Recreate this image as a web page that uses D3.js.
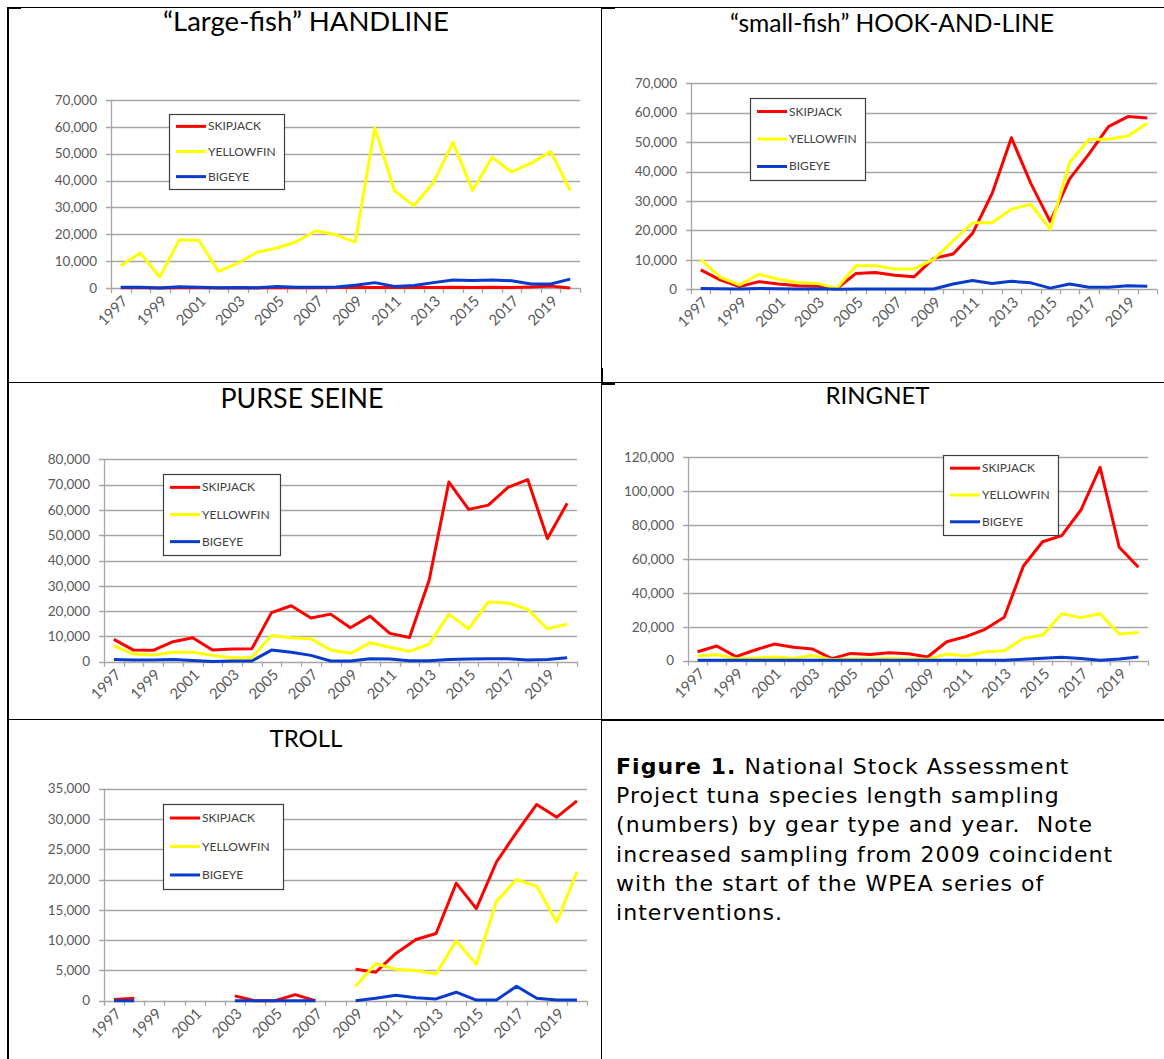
<!DOCTYPE html>
<html>
<head>
<meta charset="utf-8">
<script src="https://d3js.org/d3.v7.min.js"></script>
<style>
  body { margin: 0; background: #fff; }
  svg { display: block; }
  .tick-label { font-family: Lato, "Open Sans", sans-serif; fill: #595959; }
  .legend-text { font-family: Lato, "Open Sans", sans-serif; fill: #404040; }
  .title { font-family: Lato, "Open Sans", sans-serif; fill: #000; }
  .caption { font-family: "DejaVu Sans", Verdana, sans-serif; fill: #000; }
</style>
</head>
<body>
<div id="figure"></div>
<script>
// Categories and series
var years = [1997, 1998, 1999, 2000, 2001, 2002, 2003, 2004, 2005, 2006, 2007, 2008,
             2009, 2010, 2011, 2012, 2013, 2014, 2015, 2016, 2017, 2018, 2019, 2020];
var yearLabels = ["1997", "1999", "2001", "2003", "2005", "2007", "2009", "2011", "2013", "2015", "2017", "2019"];
var species = ["SKIPJACK", "YELLOWFIN", "BIGEYE"];

// "Large-fish" handline
var handlineSkipjack  = [100, 100, 0, 100, 100, 0, 100, 0, 200, 100, 100, 200, 300, 200, 200, 300, 200, 300, 200, 300, 200, 400, 700, 0];
var handlineYellowfin = [8300, 13000, 4100, 18000, 17700, 6200, 9300, 13400, 14900, 17300, 21300, 19800,
                         17100, 59700, 36300, 30600, 39300, 54200, 36300, 48700, 43200, 46500, 50800, 36300];
var handlineBigeye    = [300, 300, 0, 500, 300, 100, 200, 100, 600, 300, 300, 400, 1000, 2000, 600, 900, 2000, 3000, 2800, 3000, 2700, 1500, 1500, 3300];

// "small-fish" hook-and-line
var hookSkipjack  = [6600, 3200, 900, 2600, 1800, 1200, 1100, 200, 5400, 5700, 4800, 4300,
                     10500, 12000, 19000, 32400, 51500, 36000, 23000, 37500, 46000, 55300, 58700, 58200];
var hookYellowfin = [10200, 4100, 1500, 5100, 3400, 2300, 2000, 300, 8000, 8000, 6900, 7000,
                     10200, 16500, 22600, 22600, 27200, 28900, 20400, 43000, 51000, 51000, 52100, 56400];
var hookBigeye    = [300, 200, 100, 300, 200, 100, 200, 0, 100, 100, 100, 100, 100, 1800, 3000, 2000, 2700, 2200, 400, 1800, 700, 700, 1200, 1000];

// Purse seine
var purseSkipjack  = [8800, 4600, 4500, 7900, 9500, 4600, 5000, 5100, 19400, 22100, 17300, 18800,
                      13400, 18000, 11200, 9600, 32300, 71000, 60200, 61900, 68900, 72000, 48700, 62600];
var purseYellowfin = [6300, 3000, 2600, 3700, 3700, 2500, 1600, 1600, 10400, 9500, 9100, 4600,
                      3300, 7500, 5700, 4100, 7000, 18800, 13000, 23600, 23200, 20700, 13000, 14800];
var purseBigeye    = [900, 700, 700, 900, 500, 100, 300, 300, 4600, 3700, 2500, 300,
                      300, 1200, 1100, 400, 400, 900, 1100, 1200, 1200, 700, 900, 1600];

// Ringnet
var ringSkipjack  = [5300, 8700, 2400, 6300, 9800, 7900, 6900, 1200, 4300, 3700, 4700, 4100,
                     2200, 11200, 14200, 18500, 25600, 55900, 70200, 73800, 88900, 114100, 66900, 55100];
var ringYellowfin = [2800, 3500, 1200, 1600, 2200, 1400, 3100, 600, 1200, 1000, 1400, 1000,
                     800, 3900, 2800, 5300, 5900, 13200, 15000, 27700, 25400, 27700, 15700, 16700];
var ringBigeye    = [200, 200, 200, 200, 200, 200, 200, 200, 200, 200, 200, 200,
                     200, 300, 300, 300, 300, 800, 1500, 2000, 1300, 300, 1000, 2200];

// Troll (gaps are years with no sampling)
var trollSkipjack  = [200, 400, null, null, null, null, 800, 0, 0, 1000, 0, null,
                      5200, 4700, 7800, 10100, 11100, 19400, 15200, 22900, 27800, 32400, 30300, 33000];
var trollYellowfin = [null, null, null, null, null, null, null, null, null, null, null, null,
                      2400, 6100, 5200, 5000, 4400, 9900, 6000, 16400, 20000, 18900, 13000, 21300];
var trollBigeye    = [0, 0, null, null, null, null, 0, 0, 0, 0, 0, null,
                      0, 400, 900, 500, 300, 1400, 100, 100, 2400, 400, 100, 100];

var captionBold = "Figure 1.";
var captionLines = [
  " National Stock Assessment",
  "Project tuna species length sampling",
  "(numbers) by gear type and year.  Note",
  "increased sampling from 2009 coincident",
  "with the start of the WPEA series of",
  "interventions."
];

var colors = ["#ff0000", "#ffff00", "#0a3ccc"];

var panels = [
  { title: "\u201cLarge-fish\u201d HANDLINE", yMax: 70000, yStep: 10000,
    series: [handlineSkipjack, handlineYellowfin, handlineBigeye],
    plot: { x0: 111, x1: 580, y0: 100, y1: 288 }, titleX: 306, titleY: 31, titleSize: 27.5,
    legend: { x: 169, y: 114, w: 115, h: 75 } },
  { title: "\u201csmall-fish\u201d HOOK-AND-LINE", yMax: 70000, yStep: 10000,
    series: [hookSkipjack, hookYellowfin, hookBigeye],
    plot: { x0: 691, x1: 1157, y0: 83.3, y1: 289.3 }, titleX: 892, titleY: 32, titleSize: 24.6,
    legend: { x: 750, y: 98, w: 115, h: 82 } },
  { title: "PURSE SEINE", yMax: 80000, yStep: 10000,
    series: [purseSkipjack, purseYellowfin, purseBigeye],
    plot: { x0: 104, x1: 577, y0: 459.3, y1: 661.7 }, titleX: 302, titleY: 408, titleSize: 26.8,
    legend: { x: 163, y: 474, w: 117, h: 81 } },
  { title: "RINGNET", yMax: 120000, yStep: 20000,
    series: [ringSkipjack, ringYellowfin, ringBigeye],
    plot: { x0: 688, x1: 1148, y0: 457.3, y1: 660.7 }, titleX: 877.5, titleY: 404, titleSize: 24,
    legend: { x: 943, y: 455, w: 115, h: 80 } },
  { title: "TROLL", yMax: 35000, yStep: 5000,
    series: [trollSkipjack, trollYellowfin, trollBigeye],
    plot: { x0: 104, x1: 587, y0: 788.7, y1: 1000.7 }, titleX: 306, titleY: 747, titleSize: 24,
    legend: { x: 163, y: 804, w: 120, h: 85 } }
];

var svgWidth = 1164;
var svgHeight = 1059;

var svg = d3.select("#figure")
  .append("svg")
  .attr("width", svgWidth)
  .attr("height", svgHeight);

// Table rules around the panels
var rules = svg.append("g").attr("stroke", "#000").attr("shape-rendering", "crispEdges");
rules.append("line").attr("x1", 7).attr("x2", 1164).attr("y1", 7.5).attr("y2", 7.5).attr("stroke-width", 1);
rules.append("line").attr("x1", 7).attr("x2", 21).attr("y1", 8).attr("y2", 8).attr("stroke-width", 2);
rules.append("line").attr("x1", 601).attr("x2", 615).attr("y1", 8).attr("y2", 8).attr("stroke-width", 2);
rules.append("line").attr("x1", 8).attr("x2", 8).attr("y1", 7).attr("y2", 1059).attr("stroke-width", 2);
rules.append("line").attr("x1", 601.5).attr("x2", 601.5).attr("y1", 7).attr("y2", 1059).attr("stroke-width", 1);
rules.append("line").attr("x1", 602).attr("x2", 602).attr("y1", 368).attr("y2", 383).attr("stroke-width", 2);
rules.append("line").attr("x1", 7).attr("x2", 1164).attr("y1", 382.5).attr("y2", 382.5).attr("stroke-width", 1);
rules.append("line").attr("x1", 601).attr("x2", 615).attr("y1", 383.5).attr("y2", 383.5).attr("stroke-width", 2);
rules.append("line").attr("x1", 7).attr("x2", 601).attr("y1", 719.5).attr("y2", 719.5).attr("stroke-width", 1);
rules.append("line").attr("x1", 601).attr("x2", 1164).attr("y1", 720).attr("y2", 720).attr("stroke-width", 2);

panels.forEach(function(p) {
  var g = svg.append("g");

  var x = d3.scaleBand()
    .domain(years)
    .range([p.plot.x0, p.plot.x1]);

  var y = d3.scaleLinear()
    .domain([0, p.yMax])
    .range([p.plot.y1, p.plot.y0]);

  var yTicks = d3.range(0, p.yMax + 1, p.yStep);

  // gridlines
  g.append("g")
    .selectAll("line")
    .data(yTicks)
    .enter()
    .append("line")
    .attr("x1", p.plot.x0 - 5)
    .attr("x2", p.plot.x1)
    .attr("y1", d => Math.round(y(d)) + 0.5)
    .attr("y2", d => Math.round(y(d)) + 0.5)
    .attr("stroke", "#a6a6a6")
    .attr("stroke-width", 1.3);

  // y axis line
  g.append("line")
    .attr("x1", p.plot.x0 + 0.5).attr("x2", p.plot.x0 + 0.5)
    .attr("y1", p.plot.y0).attr("y2", p.plot.y1)
    .attr("stroke", "#a6a6a6").attr("stroke-width", 1.3);

  // y tick labels
  g.append("g")
    .selectAll("text")
    .data(yTicks)
    .enter()
    .append("text")
    .attr("class", "tick-label")
    .attr("x", p.plot.x0 - 14)
    .attr("y", d => y(d) + 4.7)
    .attr("text-anchor", "end")
    .style("font-size", "13.5px")
    .text(d => d3.format(",")(d));

  // x tick marks at category boundaries
  var bounds = years.map(d => x(d)).concat([p.plot.x1]);
  g.append("g")
    .selectAll("line")
    .data(bounds)
    .enter()
    .append("line")
    .attr("x1", d => Math.round(d) + 0.5)
    .attr("x2", d => Math.round(d) + 0.5)
    .attr("y1", p.plot.y1)
    .attr("y2", p.plot.y1 + 5)
    .attr("stroke", "#a6a6a6")
    .attr("stroke-width", 1.3);

  // x tick labels, rotated
  g.append("g")
    .selectAll("text")
    .data(yearLabels)
    .enter()
    .append("text")
    .attr("class", "tick-label")
    .attr("text-anchor", "end")
    .style("font-size", "15px")
    .attr("transform", d => `translate(${x(+d) + x.bandwidth() / 2 + 8}, ${p.plot.y1 + 14}) rotate(-45)`)
    .text(d => d);

  // series lines
  var line = d3.line()
    .defined(d => d != null)
    .x((d, i) => x(years[i]) + x.bandwidth() / 2)
    .y(d => y(d));

  p.series.forEach(function(values, i) {
    g.append("path")
      .datum(values)
      .attr("fill", "none")
      .attr("stroke", colors[i])
      .attr("stroke-width", 3)
      .attr("stroke-linejoin", "round")
      .attr("d", line);
  });

  // legend
  var lg = g.append("g").attr("transform", `translate(${p.legend.x}, ${p.legend.y})`);
  lg.append("rect")
    .attr("x", 0.5).attr("y", 0.5)
    .attr("width", p.legend.w).attr("height", p.legend.h)
    .attr("fill", "#fff")
    .attr("stroke", "#404040")
    .attr("stroke-width", 1.2);

  var rowY = [0.165, 0.5, 0.835];
  species.forEach(function(name, i) {
    var ry = p.legend.h * rowY[i];
    lg.append("line")
      .attr("x1", 7).attr("x2", 37)
      .attr("y1", ry).attr("y2", ry)
      .attr("stroke", colors[i])
      .attr("stroke-width", 3);
    lg.append("text")
      .attr("class", "legend-text")
      .attr("x", 39)
      .attr("y", ry + 4)
      .style("font-size", "12px")
      .text(name);
  });

  // title
  g.append("text")
    .attr("class", "title")
    .attr("x", p.titleX)
    .attr("y", p.titleY)
    .attr("text-anchor", "middle")
    .style("font-size", p.titleSize + "px")
    .text(p.title);
});

// caption in the empty bottom-right cell
var cap = svg.append("text")
  .attr("class", "caption")
  .attr("x", 616)
  .attr("y", 774)
  .style("font-size", "22px")
  .style("letter-spacing", "1.05px")
  .style("white-space", "pre");

cap.append("tspan").attr("font-weight", "bold").text(captionBold);
captionLines.forEach(function(t, i) {
  cap.append("tspan")
    .attr("x", i === 0 ? null : 616)
    .attr("dy", i === 0 ? 0 : 29.2)
    .text(t);
});
</script>
</body>
</html>
